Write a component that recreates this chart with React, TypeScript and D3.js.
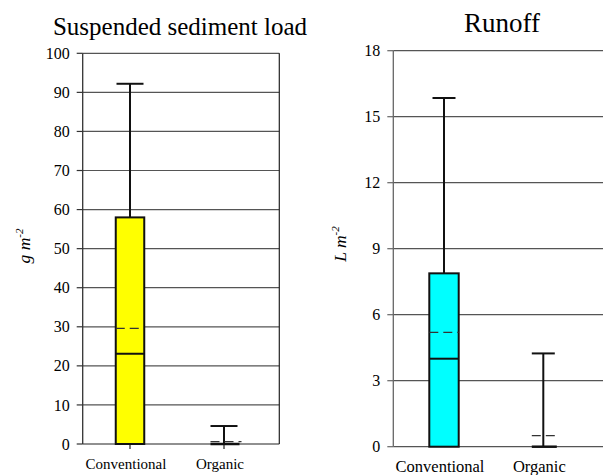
import React from "react";
import * as d3 from "d3";

const categories = ["Conventional", "Organic"];

// Suspended sediment load (g m-2)
const sedMin = [0, 0];
const sedQ3 = [58.0, 0];
const sedMedian = [23.1, 0];
const sedMean = [29.6, 0.6];
const sedMax = [92.2, 4.6];
const sedTicks = [0, 10, 20, 30, 40, 50, 60, 70, 80, 90, 100];

// Runoff (L m-2)
const runMin = [0, 0];
const runQ3 = [7.88, 0];
const runMedian = [4.0, 0];
const runMean = [5.2, 0.5];
const runMax = [15.85, 4.24];
const runTicks = [0, 3, 6, 9, 12, 15, 18];

const FONT = "Times New Roman, Liberation Serif, DejaVu Serif, serif";

type PanelProps = {
  title: string;
  titleX: number;
  titleY: number;
  titleFont: number;
  unit: string;
  unitX: number;
  unitY: number;
  left: number;
  right: number;
  top: number;
  bottom: number;
  ptLeft: number;
  ptRight: number;
  yMax: number;
  ticks: number[];
  mins: number[];
  q3: number[];
  med: number[];
  mean: number[];
  max: number[];
  fill: string;
  boxW: number;
  capW: number;
  frame: boolean;
  catTicks: boolean;
  catFont: number;
  catY: number;
  axisColor: string;
  gridColor: string;
};

function Panel(p: PanelProps) {
  const y = d3.scaleLinear().domain([0, p.yMax]).range([p.bottom, p.top]);
  const x = d3.scalePoint<string>().domain(categories).range([p.ptLeft, p.ptRight]);
  return (
    <g>
      <text x={p.titleX} y={p.titleY} textAnchor="middle" fontSize={p.titleFont} style={{ fontFamily: FONT }}>
        {p.title}
      </text>
      {p.ticks.map((t) => (
        <line
          key={"g" + t}
          x1={p.left}
          x2={p.right}
          y1={y(t)}
          y2={y(t)}
          stroke={t === 0 && p.frame ? "#222" : p.gridColor}
          strokeWidth={1.2}
        />
      ))}
      {p.ticks.map((t) => (
        <g key={"t" + t}>
          <line x1={p.left - 6} x2={p.left} y1={y(t)} y2={y(t)} stroke={p.axisColor} strokeWidth={1.2} />
          <text
            x={p.left - 13}
            y={y(t)}
            dy="0.35em"
            textAnchor="end"
            fontSize={16}
            style={{ fontFamily: FONT }}
          >
            {t}
          </text>
        </g>
      ))}
      <line x1={p.left} x2={p.left} y1={p.top} y2={p.bottom} stroke={p.axisColor} strokeWidth={1.3} />
      {p.frame && (
        <line x1={p.right} x2={p.right} y1={p.top} y2={p.bottom} stroke="#222" strokeWidth={1.2} />
      )}
      <text
        transform={`translate(${p.unitX},${p.unitY}) rotate(-90)`}
        textAnchor="middle"
        fontSize={17.5}
        fontStyle="italic"
        style={{ fontFamily: FONT }}
      >
        {p.unit} m
        <tspan dy={-7} fontSize={11}>
          -2
        </tspan>
      </text>
      {categories.map((c) => (
        <g key={"c" + c}>
          {p.catTicks && (
            <line x1={x(c)!} x2={x(c)!} y1={p.bottom} y2={p.bottom + 5} stroke="#222" strokeWidth={1.2} />
          )}
          <text x={x(c)! - 4} y={p.catY} textAnchor="middle" fontSize={p.catFont} style={{ fontFamily: FONT }}>
            {c}
          </text>
        </g>
      ))}
      {categories.map((c, i) => {
        const cx = x(c)!;
        const hasBox = p.q3[i] > p.mins[i];
        return (
          <g key={"b" + c}>
            <line x1={cx} x2={cx} y1={y(p.max[i])} y2={y(hasBox ? p.q3[i] : p.mins[i])} stroke="#111" strokeWidth={2} />
            <line x1={cx - p.capW} x2={cx + p.capW} y1={y(p.max[i])} y2={y(p.max[i])} stroke="#111" strokeWidth={2} />
            {hasBox ? (
              <>
                <rect
                  x={cx - p.boxW / 2}
                  y={y(p.q3[i])}
                  width={p.boxW}
                  height={y(p.mins[i]) - y(p.q3[i])}
                  fill={p.fill}
                  stroke="#111"
                  strokeWidth={2}
                />
                <line
                  x1={cx - p.boxW / 2}
                  x2={cx + p.boxW / 2}
                  y1={y(p.med[i])}
                  y2={y(p.med[i])}
                  stroke="#111"
                  strokeWidth={2}
                />
                <line
                  x1={cx - p.boxW / 2}
                  x2={cx + p.boxW / 2}
                  y1={y(p.mean[i])}
                  y2={y(p.mean[i])}
                  stroke="#333"
                  strokeWidth={1.3}
                  strokeDasharray="9,5"
                />
              </>
            ) : (
              <>
                <line
                  x1={cx - p.capW}
                  x2={cx + p.capW + 2}
                  y1={y(p.med[i])}
                  y2={y(p.med[i])}
                  stroke="#111"
                  strokeWidth={2.5}
                />
                <line
                  x1={cx - p.capW}
                  x2={cx + p.capW + 4}
                  y1={y(p.mean[i])}
                  y2={y(p.mean[i])}
                  stroke="#333"
                  strokeWidth={1.3}
                  strokeDasharray="9,5"
                />
              </>
            )}
          </g>
        );
      })}
    </g>
  );
}

export default function App() {
  return (
    <svg width={606} height={475} style={{ position: "absolute", left: 0, top: 0, background: "#fff" }}>
      <rect width={606} height={475} fill="#fff" />
      <Panel
        title="Suspended sediment load"
        titleX={180}
        titleY={35}
        titleFont={25}
        unit="g"
        unitX={30}
        unitY={246}
        left={82.7}
        right={279.3}
        top={53.3}
        bottom={444}
        ptLeft={130}
        ptRight={224}
        yMax={100}
        ticks={sedTicks}
        mins={sedMin}
        q3={sedQ3}
        med={sedMedian}
        mean={sedMean}
        max={sedMax}
        fill="#ffff00"
        boxW={28.5}
        capW={13.5}
        frame={true}
        catTicks={true}
        catFont={15}
        catY={469}
        axisColor="#333"
        gridColor="#555"
      />
      <Panel
        title="Runoff"
        titleX={502}
        titleY={32}
        titleFont={27}
        unit="L"
        unitX={346}
        unitY={244}
        left={393.3}
        right={603}
        top={50.7}
        bottom={446.7}
        ptLeft={444}
        ptRight={543.3}
        yMax={18}
        ticks={runTicks}
        mins={runMin}
        q3={runQ3}
        med={runMedian}
        mean={runMean}
        max={runMax}
        fill="#00ffff"
        boxW={29.4}
        capW={11.5}
        frame={false}
        catTicks={false}
        catFont={16.5}
        catY={472}
        axisColor="#666"
        gridColor="#555"
      />
    </svg>
  );
}
